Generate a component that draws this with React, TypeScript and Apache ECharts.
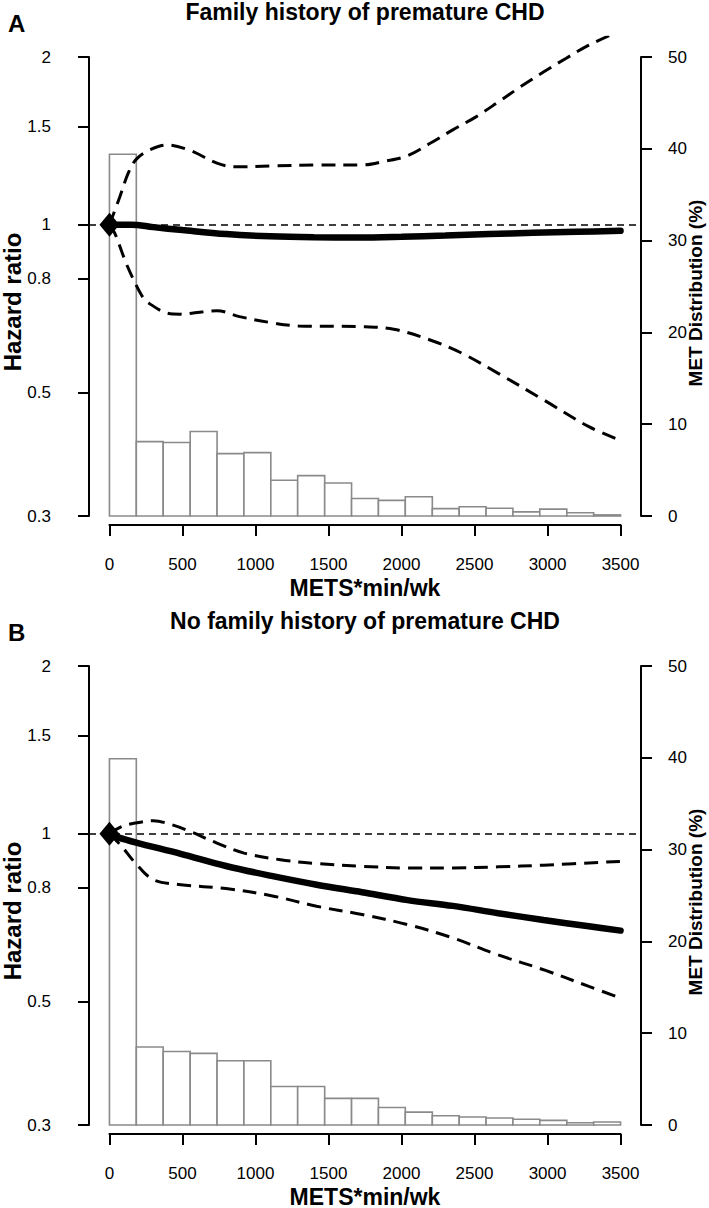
import React, { useEffect, useRef } from "react";
import * as echarts from "echarts";

// ---------------- data ----------------
const BIN_EDGES = [0, 184, 368, 553, 737, 921, 1105, 1289, 1474, 1658, 1842, 2026, 2211, 2395, 2579, 2763, 2947, 3132, 3316, 3500];
const HIST_A = [39.4, 8.1, 8.0, 9.2, 6.8, 6.9, 3.9, 4.4, 3.6, 1.9, 1.7, 2.1, 0.8, 1.0, 0.85, 0.45, 0.75, 0.35, 0.12];
const HIST_B = [39.9, 8.5, 8.0, 7.8, 7.0, 7.0, 4.2, 4.2, 2.9, 2.9, 1.9, 1.4, 1.0, 0.87, 0.76, 0.62, 0.5, 0.25, 0.33];

const A_HR_X = [0, 150, 300, 500, 800, 1100, 1400, 1700, 2000, 2300, 2600, 2900, 3200, 3500];
const A_HR = [1.0, 1.0, 0.99, 0.978, 0.962, 0.953, 0.949, 0.948, 0.951, 0.956, 0.962, 0.967, 0.971, 0.975];
const A_UP_X = [0, 70, 130, 183, 270, 394, 550, 736, 860, 1109, 1420, 1730, 1885, 2041, 2196, 2351, 2507, 2662, 2817, 2972, 3128, 3283, 3500];
const A_UP = [1.0, 1.12, 1.24, 1.31, 1.36, 1.39, 1.36, 1.29, 1.27, 1.275, 1.28, 1.28, 1.3, 1.33, 1.4, 1.48, 1.56, 1.66, 1.77, 1.88, 1.99, 2.1, 2.23];
const A_LO_X = [0, 37, 115, 177, 233, 270, 394, 488, 643, 736, 891, 1109, 1295, 1730, 1947, 2196, 2413, 2662, 2972, 3283, 3500];
const A_LO = [1.0, 0.965, 0.852, 0.785, 0.738, 0.723, 0.694, 0.691, 0.698, 0.701, 0.684, 0.667, 0.658, 0.656, 0.649, 0.621, 0.588, 0.541, 0.485, 0.434, 0.41];

const B_HR_X = [0, 60, 177, 488, 798, 1109, 1419, 1730, 2041, 2351, 2662, 2972, 3283, 3500];
const B_HR = [1.0, 0.985, 0.965, 0.92, 0.875, 0.84, 0.81, 0.785, 0.76, 0.742, 0.72, 0.7, 0.682, 0.67];
const B_UP_X = [0, 84, 177, 301, 426, 550, 736, 922, 1171, 1419, 1730, 2041, 2351, 2662, 2972, 3500];
const B_UP = [1.0, 1.03, 1.045, 1.055, 1.038, 1.01, 0.962, 0.923, 0.898, 0.884, 0.874, 0.868, 0.868, 0.872, 0.878, 0.892];
const B_LO_X = [0, 84, 177, 301, 488, 798, 1109, 1419, 1730, 2041, 2351, 2662, 2972, 3283, 3500];
const B_LO = [1.0, 0.949, 0.886, 0.827, 0.81, 0.797, 0.774, 0.741, 0.716, 0.687, 0.65, 0.606, 0.57, 0.532, 0.507];

const REF_X = 0;
const REF_HR = 1;

const HR_TICKS = [0.3, 0.5, 0.8, 1, 1.5, 2];
const X_TICK_STEP = 500;
const X_MAX = 3500;
const PCT_TICKS_MAX = 50;
const PCT_STEP = 10;

const PANELS = [
  { letter: "A", title: "Family history of premature CHD", hist: HIST_A, hr: [A_HR_X, A_HR], up: [A_UP_X, A_UP], lo: [A_LO_X, A_LO] },
  { letter: "B", title: "No family history of premature CHD", hist: HIST_B, hr: [B_HR_X, B_HR], up: [B_UP_X, B_UP], lo: [B_LO_X, B_LO] },
];

// ---------------- layout ----------------
const W = 709;
const H = 1208;
const FONT = "'Liberation Sans', Arial, Helvetica, sans-serif";
const PLOT_L = 89;
const PLOT_R = 641;
const X_LIM = [-140, 3640];
const HR_PLOT_TOP = 2.17;
const PANEL_TOP = [57, 666];
const AXIS_H = 459;

const ln = Math.log;
const fmtHR = (v: number) => {
  const e = Math.exp(v);
  const r = Math.round(e * 10) / 10;
  return String(r);
};

function buildOption() {
  const pxPerX = (PLOT_R - PLOT_L) / (X_LIM[1] - X_LIM[0]);
  const vLeft = PLOT_L + (0 - X_LIM[0]) * pxPerX;
  const vRight = PLOT_L + (X_MAX - X_LIM[0]) * pxPerX;
  const lnMin = ln(HR_TICKS[0]);
  const lnMax = ln(HR_TICKS[HR_TICKS.length - 1]);
  const pxPerLn = AXIS_H / (lnMax - lnMin);
  const lnTicks = HR_TICKS.map((t) => ln(t));

  const grid: any[] = [];
  const xAxis: any[] = [];
  const yAxis: any[] = [];
  const series: any[] = [];
  const graphic: any[] = [];

  PANELS.forEach((p, i) => {
    const top = PANEL_TOP[i];
    const sTop = top - ln(HR_PLOT_TOP / HR_TICKS[HR_TICKS.length - 1]) * pxPerLn;
    const gV = grid.length;
    grid.push({ left: vLeft, width: vRight - vLeft, top, height: AXIS_H, containLabel: false });
    const gS = grid.length;
    grid.push({ left: PLOT_L, width: PLOT_R - PLOT_L, top: sTop, height: top + AXIS_H - sTop, containLabel: false });

    const xV = xAxis.length;
    xAxis.push({
      gridIndex: gV,
      type: "value",
      min: 0,
      max: X_MAX,
      interval: X_TICK_STEP,
      position: "bottom",
      offset: 9,
      axisLine: { show: true, onZero: false, lineStyle: { color: "#000", width: 2 } },
      axisTick: { show: true, length: 11, lineStyle: { color: "#000", width: 2 } },
      axisLabel: { margin: 31, fontSize: 17, color: "#000", fontFamily: FONT, formatter: (v: number) => String(v) },
      splitLine: { show: false },
    });
    const xS = xAxis.length;
    xAxis.push({ gridIndex: gS, type: "value", min: X_LIM[0], max: X_LIM[1], show: false, axisLine: { onZero: false } });

    yAxis.push({
      gridIndex: gV,
      type: "value",
      position: "left",
      offset: vLeft - PLOT_L,
      min: lnMin,
      max: lnMax,
      axisLine: { show: true, onZero: false, lineStyle: { color: "#000", width: 2 } },
      axisTick: { show: true, length: 11, customValues: lnTicks, lineStyle: { color: "#000", width: 2 } },
      axisLabel: { customValues: lnTicks, formatter: fmtHR, margin: 38, fontSize: 17, color: "#000", fontFamily: FONT },
      splitLine: { show: false },
    });
    const yR = yAxis.length;
    yAxis.push({
      gridIndex: gV,
      type: "value",
      position: "right",
      offset: PLOT_R - vRight,
      min: 0,
      max: PCT_TICKS_MAX,
      interval: PCT_STEP,
      axisLine: { show: true, onZero: false, lineStyle: { color: "#000", width: 2 } },
      axisTick: { show: true, length: 11, lineStyle: { color: "#000", width: 2 } },
      axisLabel: { margin: 27, fontSize: 17, color: "#000", fontFamily: FONT },
      splitLine: { show: false },
    });
    const yS = yAxis.length;
    yAxis.push({ gridIndex: gS, type: "value", min: lnMin, max: ln(HR_PLOT_TOP), show: false, axisLine: { onZero: false } });

    series.push({
      type: "custom",
      xAxisIndex: xV,
      yAxisIndex: yR,
      data: p.hist.map((v, k) => [BIN_EDGES[k], BIN_EDGES[k + 1], v]),
      encode: { x: [0, 1], y: 2 },
      renderItem: (params: any, api: any) => {
        const p0 = api.coord([api.value(0), 0]);
        const p1 = api.coord([api.value(1), api.value(2)]);
        return {
          type: "rect",
          shape: { x: p0[0], y: p1[1], width: p1[0] - p0[0], height: p0[1] - p1[1] },
          style: { fill: "#fff", stroke: "#8a8a8a", lineWidth: 1.6 },
        };
      },
      z: 1,
    });

    const mk = (xs: number[], vs: number[]) => xs.map((x, k) => [x, ln(vs[k])]);
    const dashed = { color: "#000", width: 3, type: [14, 8], cap: "butt" };
    series.push({
      type: "line",
      xAxisIndex: xS,
      yAxisIndex: yS,
      data: mk(p.up[0], p.up[1]),
      showSymbol: false,
      smooth: 0.35,
      clip: true,
      lineStyle: dashed,
      z: 3,
    });
    series.push({
      type: "line",
      xAxisIndex: xS,
      yAxisIndex: yS,
      data: mk(p.lo[0], p.lo[1]),
      showSymbol: false,
      smooth: 0.35,
      clip: true,
      lineStyle: dashed,
      z: 3,
    });
    series.push({
      type: "line",
      xAxisIndex: xS,
      yAxisIndex: yS,
      data: mk(p.hr[0], p.hr[1]),
      showSymbol: false,
      smooth: 0.35,
      lineStyle: { color: "#000", width: 6.5, cap: "round" },
      markLine: {
        silent: true,
        symbol: "none",
        label: { show: false },
        lineStyle: { color: "#000", width: 1.6, type: [7, 5] },
        data: [{ yAxis: ln(REF_HR) }],
      },
      z: 4,
    });
    series.push({
      type: "scatter",
      xAxisIndex: xS,
      yAxisIndex: yS,
      data: [[REF_X, ln(REF_HR)]],
      symbol: "diamond",
      symbolSize: [20, 24],
      itemStyle: { color: "#000", opacity: 1 },
      z: 5,
    });

    const dy = top - PANEL_TOP[0];
    const midX = (PLOT_L + PLOT_R) / 2;
    graphic.push(
      { type: "text", x: midX, y: 0 + dy, style: { text: p.title, font: `bold 23px ${FONT}`, fill: "#000", textAlign: "center", textVerticalAlign: "top" } },
      { type: "text", x: 8, y: 23 + dy, style: { text: p.letter, font: `bold 24px ${FONT}`, fill: "#000", textAlign: "left", textVerticalAlign: "middle" } },
      { type: "text", x: midX, y: 599 + dy, style: { text: "METS*min/wk", font: `bold 23px ${FONT}`, fill: "#000", textAlign: "center", textVerticalAlign: "bottom" } },
      { type: "text", x: 12, y: 302 + dy, rotation: Math.PI / 2, style: { text: "Hazard ratio", font: `bold 24px ${FONT}`, fill: "#000", textAlign: "center", textVerticalAlign: "middle" } },
      { type: "text", x: 695, y: 293 + dy, rotation: Math.PI / 2, style: { text: "MET Distribution (%)", font: `bold 19px ${FONT}`, fill: "#000", textAlign: "center", textVerticalAlign: "middle" } }
    );
  });

  return {
    animation: false,
    backgroundColor: "#fff",
    grid,
    xAxis,
    yAxis,
    series,
    graphic,
  };
}

export default function App() {
  const ref = useRef<HTMLDivElement>(null);
  useEffect(() => {
    if (!ref.current) return;
    const chart = echarts.init(ref.current, null, { renderer: "svg" });
    chart.setOption(buildOption() as any);
    return () => chart.dispose();
  }, []);
  return <div ref={ref} style={{ position: "fixed", left: 0, top: 0, width: W, height: H, background: "#fff" }} />;
}
